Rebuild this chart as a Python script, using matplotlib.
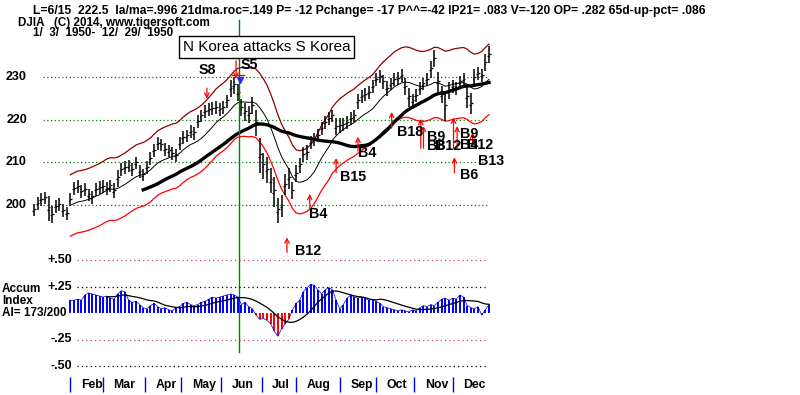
import numpy as np
import matplotlib
matplotlib.use('Agg')
import matplotlib.pyplot as plt

plt.rcParams['font.family'] = ['Liberation Sans', 'DejaVu Sans']

# DJIA 1950, one bar for every second trading day (day index 0..250)
days = np.arange(0, 251, 2)
closes = [
    199.0, 200.5, 201.5, 201.8, 199.5, 198.0, 199.8, 200.2, 198.8, 198.2,
    201.5, 204.0, 204.5, 203.3, 203.8, 202.5, 202.0, 203.8, 204.2, 204.5,
    204.0, 204.6, 203.5, 206.5, 208.5, 209.0, 209.3, 208.5, 210.0, 208.0,
    207.2, 209.0, 211.0, 213.0, 214.5, 214.2, 213.2, 212.8, 212.3, 211.8,
    214.5, 216.0, 216.3, 217.3, 217.0, 219.8, 221.0, 222.0, 222.5, 222.8,
    223.0, 222.5, 223.0, 224.5, 227.5, 228.3, 226.5, 223.0, 222.0, 221.5,
    223.5, 219.5, 212.0, 209.5, 208.5, 206.0, 203.5, 199.0, 200.0, 205.0,
    206.5, 203.5, 207.5, 209.5, 212.0, 212.5, 214.8, 215.5, 216.5, 218.0,
    219.5, 220.5, 221.0, 218.5, 218.8, 219.0, 219.5, 220.5, 221.0, 224.5,
    225.5, 226.0, 226.5, 228.0, 229.5, 230.2, 229.0, 227.5, 228.5, 229.5,
    229.8, 230.5, 228.0, 225.5, 224.5, 225.8, 227.5, 228.5, 229.5, 232.0,
    234.5, 229.0, 226.0, 223.5, 227.0, 228.0, 227.5, 229.0, 229.5, 225.5,
    224.0, 230.0, 231.0, 230.5, 233.5, 235.4,
]
ranges = [
    3, 3, 3, 3, 6, 4, 3, 3, 3, 3,
    3, 3, 3, 3, 3, 3, 3, 3, 3, 3,
    3, 3, 3.5, 4, 3, 3, 3, 3, 3, 3,
    3, 3, 3, 3, 3, 3, 3, 3, 3, 3,
    3, 3, 3, 3, 3, 3, 3, 3, 3, 3,
    3, 3, 3, 3, 4, 4, 4, 4, 4, 4,
    4, 6, 8, 6, 6, 6, 7, 6, 5, 5,
    5, 4, 4, 3.5, 3.5, 3.5, 3, 3, 3, 3,
    3, 3, 3, 4, 3.5, 3, 3, 3, 3, 3.5,
    3, 3, 3, 3, 3, 3, 3.5, 3.5, 3, 3,
    3, 3, 4, 4.5, 3.5, 3, 3, 3, 3, 4,
    4, 5, 4, 7, 4, 3, 3, 3, 3, 5,
    5, 4, 3, 3, 4, 4,
]

# accumulation index, starts on day 20
accum = [
    0.12, 0.12, 0.13, 0.12, 0.17, 0.19, 0.18, 0.17, 0.16, 0.15,
    0.16, 0.14, 0.13, 0.18, 0.21, 0.20, 0.12, 0.10, 0.11, 0.08,
    0.05, 0.04, 0.07, 0.09, 0.06, 0.04, 0.05, 0.03, 0.02, 0.05,
    0.06, 0.09, 0.10, 0.08, 0.07, 0.08, 0.10, 0.11, 0.13, 0.15,
    0.14, 0.15, 0.16, 0.17, 0.18, 0.17, 0.15, 0.08, 0.10, 0.06,
    0.04, -0.02, -0.06, -0.05, -0.07, -0.10, -0.17, -0.22, -0.15, -0.10,
    -0.06, 0.03, 0.09, 0.12, 0.20, 0.24, 0.27, 0.26, 0.22, 0.18,
    0.22, 0.24, 0.22, 0.12, 0.04, 0.08, 0.14, 0.17, 0.15, 0.14,
    0.15, 0.14, 0.12, 0.13, 0.11, 0.09, 0.06, 0.05, 0.04, 0.03,
    0.02, 0.03, 0.02, 0.01, 0.03, 0.02, 0.05, 0.07, 0.06, 0.08,
    0.07, 0.10, 0.13, 0.14, 0.12, 0.14, 0.13, 0.17, 0.15, 0.07,
    0.05, 0.04, 0.06, -0.02, 0.03, 0.08,
]
ai_days = days[10:]

months = ['Feb', 'Mar', 'Apr', 'May', 'Jun', 'Jul', 'Aug', 'Sep', 'Oct', 'Nov', 'Dec']
month_start = [20, 38, 61, 81, 103, 125, 144, 168, 188, 209, 230]
korea_day = 112.6

# signal arrows: (day, tail price, tip price)
sell_arrows = [(95, 227.4, 224.9), (111, 233.8, 229.6)]
buy_arrows = [(139, 188.9, 192.4), (151.5, 199.4, 202.6), (166, 207.6, 211.0),
              (178, 212.6, 216.0), (196.5, 218.0, 221.8), (212.5, 213.3, 220.2),
              (214, 213.3, 218.5), (230.5, 213.3, 220.5), (232.5, 213.3, 218.5),
              (241, 214.0, 217.0), (231, 207.6, 211.2)]

# pixel layout of the original screen
X0, DX = 34.0, 1.82          # day 0 at x=34, 1.82 px per trading day
P230, PPP = 77.0, 4.267      # price 230 at y=77, px per point
A0, APU = 313.0, 106.0       # AI zero at y=313, px per unit
W, H = 800, 395


def px_day(px):
    return (px - X0) / DX


def px_price(py):
    return 230 - (py - P230) / PPP


def px_ai(py):
    return (A0 - py) / APU


fig = plt.figure(figsize=(8, 3.95), dpi=100)
ax = fig.add_axes([0, 0, 1, 1])
ax.set_xlim(px_day(0), px_day(W))
ax.set_ylim(px_price(H), px_price(0))
ax.axis('off')
ax2 = fig.add_axes([0, 0, 1, 1], sharex=ax)
ax2.set_ylim(px_ai(H), px_ai(0))
ax2.axis('off')
ax2.patch.set_alpha(0)

closes = np.array(closes)
ranges = np.array(ranges, dtype=float)
accum = np.array(accum)

# grid lines
ax.hlines([200, 210, 220, 230], px_day(43), px_day(488), colors='#008000',
          linestyles=(0, (1, 2)), lw=0.9)
for lvl, col in [(0.5, '#c04070'), (0.25, 'black'), (-0.25, '#c04070'), (-0.5, 'black')]:
    ax2.hlines(lvl, px_day(77), px_day(488), colors=col, linestyles=(0, (1, 2.5)), lw=0.9)

# moving averages and bands
ma21 = np.convolve(closes, np.ones(11) / 11, mode='valid')
ma_long = np.convolve(closes, np.ones(31) / 31, mode='valid')
ax.plot(days[10:], ma21 * 1.036, color='#900000', lw=0.9)
ax.plot(days[10:], ma21 * 0.964, color='#ff0000', lw=0.9)
ax.plot(days[10:], ma21, color='black', lw=0.7)
ax.plot(days[30:], ma_long, color='black', lw=2.4)

# price bars
ax.vlines(days, closes - ranges * 0.55, closes + ranges * 0.45, colors='black', lw=1.1)
ax.hlines(closes, days, days + 1.0, colors='black', lw=0.9)
ax.hlines(closes - ranges * 0.1, days - 1.0, days, colors='black', lw=0.9)

# Korea line
ax.axvline(korea_day, ymin=1 - 352 / H, ymax=1 - 20 / H, color='#008000', lw=1.0)

# signals
for d, tail, tip in sell_arrows + buy_arrows:
    ax.annotate('', xy=(d, tip), xytext=(d, tail),
                arrowprops=dict(arrowstyle='->', color='#ff0000', lw=0.9,
                                shrinkA=0, shrinkB=0, mutation_scale=8))
ax.plot([px_day(232), px_day(244)], [px_price(75), px_price(75)], color='#ff0000', lw=1)
ax.plot(px_day(240), px_price(80), marker='v', color='#2030ff', ms=4)

sig_labels = [('S8', 199, 70), ('S5', 241, 65), ('B12', 295, 251), ('B4', 309, 214),
              ('B15', 340, 177), ('B4', 358, 153), ('B18', 397, 132),
              ('B9', 427, 137), ('B8', 427, 146), ('B12', 435, 146),
              ('B9', 460, 134), ('B4', 460, 145), ('B12', 467, 145),
              ('B13', 478, 161), ('B6', 460, 175)]
for txt, px, py in sig_labels:
    ax.text(px_day(px), px_price(py), txt, ha='left', va='center',
            fontsize=10.3, fontweight='bold')

ax.text(px_day(183), px_price(47), 'N Korea attacks S Korea', ha='left', va='center',
        fontsize=11, bbox=dict(boxstyle='square,pad=0.25', fc='white', ec='black', lw=1))

# price axis labels
for lvl in [230, 220, 210, 200]:
    ax.text(px_day(27), lvl, str(lvl), ha='right', va='center', fontsize=9, fontweight='bold')

# accumulation index
pos = accum >= 0
ax2.vlines(ai_days[pos], 0, accum[pos], colors='#0000ff', lw=1.4)
ax2.vlines(ai_days[~pos], 0, accum[~pos], colors='#ff0000', lw=1.4)
ax2.plot(ai_days, accum, color='#0000c0', lw=0.5)
ai_ma = np.convolve(accum, np.ones(11) / 11, mode='valid')
ax2.plot(ai_days[10:], ai_ma, color='black', lw=0.9)

for lvl, txt in [(0.5, '+.50'), (0.25, '+.25'), (-0.25, '-.25'), (-0.5, '-.50')]:
    ax2.text(px_day(72), lvl, txt, ha='right', va='center', fontsize=9, fontweight='bold')
for txt, py in [('Accum', 289), ('Index', 301), ('AI= 173/200', 313)]:
    ax2.text(px_day(2), px_ai(py), txt, ha='left', va='center', fontsize=8.5, fontweight='bold')

# month axis
ax2.vlines(month_start, px_ai(392), px_ai(377), colors='#0000ff', lw=1.0)
for m, d in zip(months, month_start):
    ax2.annotate(m, (d, px_ai(385)), xytext=(7.5, 0), textcoords='offset points',
                 ha='left', va='center', fontsize=8.8, fontweight='bold')

# header
fig.text(33 / W, 1 - 11 / H,
         'L=6/15  222.5  la/ma=.996 21dma.roc=.149 P= -12 Pchange= -17 P^^=-42 '
         'IP21= .083 V=-120 OP= .282 65d-up-pct= .086',
         ha='left', va='center', fontsize=8.7, fontweight='bold')
fig.text(18 / W, 1 - 23 / H, 'DJIA   (C) 2014, www.tigersoft.com',
         ha='left', va='center', fontsize=8.4, fontweight='bold')
fig.text(33 / W, 1 - 33 / H, '1/  3/  1950-  12/  29/  1950',
         ha='left', va='center', fontsize=8.4, fontweight='bold')

fig.savefig('out.png', dpi=100, facecolor='white')
